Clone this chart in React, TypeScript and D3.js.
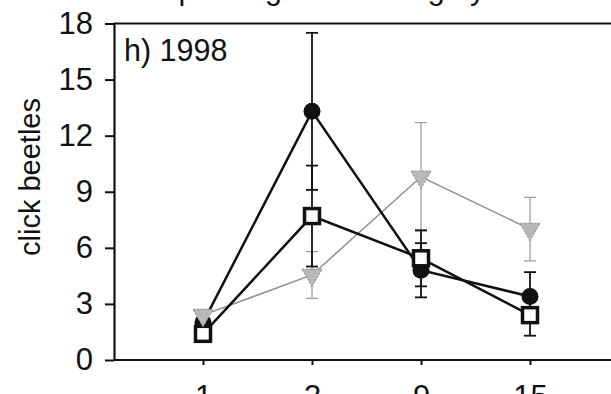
import { useEffect, useRef } from 'react'
import * as d3 from 'd3'

// sampling occasions (x categories)
const days = ['1', '3', '9', '15']
// filled circles
const circleMean = [2.0, 13.3, 4.8, 3.4]
const circleErr = [0.3, 4.2, 1.45, 1.3]
// open squares
const squareMean = [1.4, 7.7, 5.44, 2.4]
const squareErr = [0.3, 2.7, 1.5, 1.1]
// grey down-triangles
const triMean = [2.4, 4.55, 9.8, 7.0]
const triErr = [0.3, 1.25, 2.9, 1.7]

const yTicks = [0, 3, 6, 9, 12, 15, 18]

const W = 611
const H = 394
const FONT = '"Liberation Sans", Arial, sans-serif'

export default function App() {
  const svgRef = useRef<SVGSVGElement>(null)

  useEffect(() => {
    if (!svgRef.current) return
    const svg = d3.select(svgRef.current)
    svg.selectAll('*').remove()

    const left = 114
    const top = 23.5
    const bottom = 360
    const right = 640

    const x = d3.scalePoint<string>().domain(days).range([203, 530])
    const y = d3.scaleLinear().domain([0, 18]).range([bottom, top])

    // cut-off caption of the panel above (only descenders show)
    svg.append('text')
      .attr('x', 14).attr('y', -1)
      .attr('font-family', FONT).attr('font-size', 30.5).attr('fill', '#111')
      .text('weeks after plowing and sowing by hand')

    // frame
    svg.append('line').attr('x1', left).attr('x2', right).attr('y1', top).attr('y2', top)
      .attr('stroke', '#111').attr('stroke-width', 2.2)

    const gy = svg.append('g').attr('transform', `translate(${left},0)`)
      .call(d3.axisLeft(y).tickValues(yTicks).tickSize(9).tickSizeOuter(0).tickPadding(12))
    gy.select('.domain').attr('stroke', '#111').attr('stroke-width', 2.2)
    gy.selectAll('.tick line').attr('stroke', '#111').attr('stroke-width', 2)
    gy.selectAll('.tick text').attr('font-family', FONT).attr('font-size', 31).attr('fill', '#111')

    const gx = svg.append('g').attr('transform', `translate(0,${bottom})`)
      .call(d3.axisBottom(x).tickSize(5).tickSizeOuter(0).tickPadding(20))
    gx.select('.domain').attr('d', `M${left},0H${right}`).attr('stroke', '#111').attr('stroke-width', 2.2)
    gx.selectAll('.tick line').attr('stroke', '#111').attr('stroke-width', 2)
    gx.selectAll('.tick text').attr('font-family', FONT).attr('font-size', 31).attr('fill', '#111')

    svg.append('text')
      .attr('transform', 'translate(40,177) rotate(-90)')
      .attr('text-anchor', 'middle')
      .attr('font-family', FONT).attr('font-size', 29).attr('fill', '#111')
      .text('click beetles')

    svg.append('text')
      .attr('x', 124).attr('y', 61)
      .attr('font-family', FONT).attr('font-size', 30.5).attr('fill', '#111')
      .text('h) 1998')

    const line = d3.line<number>().x((_, i) => x(days[i])!).y(d => y(d))

    const errorBars = (mean: number[], err: number[], color: string, w: number) => {
      const g = svg.append('g').attr('stroke', color).attr('stroke-width', w).attr('fill', 'none')
      mean.forEach((m, i) => {
        const cx = x(days[i])!
        g.append('line').attr('x1', cx).attr('x2', cx).attr('y1', y(m - err[i])).attr('y2', y(m + err[i]))
        g.append('line').attr('x1', cx - 6).attr('x2', cx + 6).attr('y1', y(m + err[i])).attr('y2', y(m + err[i]))
        g.append('line').attr('x1', cx - 6).attr('x2', cx + 6).attr('y1', y(m - err[i])).attr('y2', y(m - err[i]))
      })
    }

    // grey triangles series
    errorBars(triMean, triErr, '#9a9a9a', 1.2)
    svg.append('path').attr('d', line(triMean)!).attr('fill', 'none').attr('stroke', '#8f8f8f').attr('stroke-width', 1.5)

    // circles series
    errorBars(circleMean, circleErr, '#111', 1.8)
    svg.append('path').attr('d', line(circleMean)!).attr('fill', 'none').attr('stroke', '#111').attr('stroke-width', 2.5)
    svg.append('g').selectAll('circle').data(circleMean).join('circle')
      .attr('cx', (_, i) => x(days[i])!).attr('cy', d => y(d)).attr('r', 8.5).attr('fill', '#111')

    // squares series
    errorBars(squareMean, squareErr, '#111', 1.8)
    svg.append('path').attr('d', line(squareMean)!).attr('fill', 'none').attr('stroke', '#111').attr('stroke-width', 2.5)
    svg.append('g').selectAll('rect').data(squareMean).join('rect')
      .attr('x', (_, i) => x(days[i])! - 7.5).attr('y', d => y(d) - 7.5)
      .attr('width', 15).attr('height', 15)
      .attr('fill', '#fff').attr('stroke', '#111').attr('stroke-width', 3.5)

    // triangles on top
    const tri = d3.symbol().type(d3.symbolTriangle).size(180)
    svg.append('g').selectAll('path').data(triMean).join('path')
      .attr('d', tri()!)
      .attr('transform', (d, i) => `translate(${x(days[i])},${y(d)}) rotate(180)`)
      .attr('fill', '#b8b8b8').attr('stroke', '#8f8f8f').attr('stroke-width', 1).attr('stroke-dasharray', '2,1.5')
  }, [])

  return (
    <svg ref={svgRef} width={W} height={H}
      style={{ position: 'absolute', left: 0, top: 0, background: '#fff' }} />
  )
}
